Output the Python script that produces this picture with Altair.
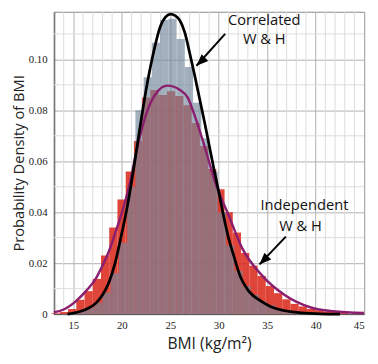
import altair as alt
import pandas as pd

# Correlated W & H histogram (bin edges and densities)
gray_edges = [13.75, 14.6, 15.45, 16.3, 17.15, 18.0, 18.85, 19.7, 20.55, 21.4, 22.25, 23.1,
              23.95, 24.8, 25.65, 26.5, 27.35, 28.2, 29.05, 29.9, 30.75, 31.6, 32.45, 33.3,
              34.15, 35.0, 35.85, 36.7, 37.55, 38.4, 39.25, 40.1, 40.95, 41.8, 42.65]
gray_h = [0.0001, 0.0004, 0.0012, 0.0025, 0.0045, 0.0085, 0.016, 0.028, 0.050, 0.080, 0.093,
          0.1065, 0.1155, 0.116, 0.108, 0.097, 0.083, 0.069, 0.056, 0.040, 0.027, 0.017, 0.011,
          0.0075, 0.005, 0.0035, 0.0022, 0.0014, 0.0009, 0.0006, 0.0004, 0.0002, 0.0001, 0.0001]

# Independent W & H histogram
red_edges = [12.75, 13.6, 14.45, 15.3, 16.15, 17.0, 17.85, 18.7, 19.55, 20.4, 21.25, 22.1,
             22.95, 23.8, 24.65, 25.5, 26.35, 27.2, 28.05, 28.9, 29.75, 30.6, 31.45, 32.3,
             33.15, 34.0, 34.85, 35.7, 36.55, 37.4, 38.25, 39.1, 39.95, 40.8, 41.65, 42.5, 43.35]
red_h = [0.0003, 0.0008, 0.002, 0.0056, 0.009, 0.0138, 0.023, 0.034, 0.045, 0.056, 0.068,
         0.085, 0.088, 0.086, 0.0875, 0.0856, 0.082, 0.075, 0.066, 0.057, 0.049, 0.040, 0.032,
         0.024, 0.019, 0.015, 0.011, 0.0082, 0.0058, 0.004, 0.003, 0.002, 0.0015, 0.001,
         0.0008, 0.0005]

# Fitted curves
black_x = [14.4, 15.5, 16.5, 17.3, 18.0, 18.6, 19.3, 19.9, 20.4, 20.9, 21.3, 21.8, 22.5, 23.2,
           24.0, 24.5, 25.0, 25.5, 26.0, 26.5, 27.0, 27.5, 28.0, 28.5, 29.0, 29.5, 30.0, 30.5,
           31.0, 31.5, 32.2, 33.0, 34.4, 35.5, 36.7, 38.5, 40.5, 42.5]
black_y = [0.0, 0.0008, 0.0022, 0.0042, 0.0075, 0.0118, 0.020, 0.030, 0.039, 0.0495, 0.059,
           0.0715, 0.088, 0.1015, 0.1132, 0.1166, 0.1178, 0.1172, 0.1152, 0.1105, 0.1025,
           0.094, 0.085, 0.076, 0.0665, 0.057, 0.048, 0.0385, 0.030, 0.0235, 0.015, 0.0095,
           0.005, 0.0027, 0.0014, 0.0005, 0.0001, 0.0]
purple_x = [13.0, 14.0, 15.3, 16.3, 17.3, 18.0, 18.6, 19.6, 20.4, 20.8, 21.6, 22.6, 23.6, 24.7,
            26.0, 26.8, 27.6, 28.6, 29.7, 31.0, 32.4, 34.5, 36.8, 39.5, 41.8, 45.0]
purple_y = [0.0007, 0.0018, 0.0052, 0.009, 0.0138, 0.019, 0.024, 0.035, 0.045, 0.051, 0.0655,
            0.0795, 0.087, 0.0897, 0.088, 0.085, 0.077, 0.065, 0.051, 0.039, 0.026, 0.015,
            0.0075, 0.0026, 0.0011, 0.0004]

x_ticks = [15, 20, 25, 30, 35, 40, 45]
y_ticks = [0, 0.02, 0.04, 0.06, 0.08, 0.10]
x_minor = [v for v in range(13, 46) if v % 5 != 0]
y_minor = [0.01, 0.03, 0.05, 0.07, 0.09, 0.11]

ann_text = ["Correlated", "W & H", "Independent", "W & H"]
ann_x = [34.7, 34.7, 38.84, 38.44]
ann_y = [0.1155, 0.1078, 0.0426, 0.0346]
arrow_tail_x = [30.66, 36.92]
arrow_tail_y = [0.110, 0.0304]
arrow_tip_x = [27.7, 34.2]
arrow_tip_y = [0.0975, 0.0195]
arrow_angle = [226, 225]

gray_df = pd.DataFrame({"x0": gray_edges[:-1], "x1": gray_edges[1:], "h": gray_h, "b": 0.0})
red_df = pd.DataFrame({"x0": red_edges[:-1], "x1": red_edges[1:], "h": red_h, "b": 0.0})
black_df = pd.DataFrame({"x": black_x, "y": black_y})
purple_df = pd.DataFrame({"x": purple_x, "y": purple_y})
ann_df = pd.DataFrame({"t": ann_text, "x": ann_x, "y": ann_y})
arr_df = pd.DataFrame({"x": arrow_tail_x, "y": arrow_tail_y, "x2": arrow_tip_x,
                       "y2": arrow_tip_y, "a": arrow_angle})

xs = alt.Scale(domain=[13, 45], nice=False, zero=False)
ys = alt.Scale(domain=[0, 0.1187], nice=False)

x_axis = alt.Axis(values=x_ticks, grid=True, gridColor="#b0b0b0", ticks=False,
                  domainColor="#555", labelFont="Liberation Serif", labelFontSize=11,
                  labelColor="#222", labelPadding=6, title="BMI (kg/m²)", titleFont="Open Sans",
                  titleFontSize=16, titleFontWeight="normal", titleColor="#222", titlePadding=5)
y_axis = alt.Axis(values=y_ticks, grid=True, gridColor="#b0b0b0", ticks=False,
                  domainColor="#222", domainWidth=1.5, labelFont="Liberation Serif",
                  labelFontSize=11, labelColor="#222", labelPadding=7,
                  labelExpr="datum.value == 0 ? '0' : format(datum.value, '.2f')",
                  title="Probability Density of BMI", titleFont="Open Sans", titleFontSize=15,
                  titleFontWeight="normal", titleColor="#222", titleX=-28)

minor_v = alt.Chart(pd.DataFrame({"v": x_minor})).mark_rule(color="#dcdcdc", strokeWidth=1).encode(
    x=alt.X("v:Q", scale=xs, axis=x_axis))
minor_h = alt.Chart(pd.DataFrame({"v": y_minor})).mark_rule(color="#dcdcdc", strokeWidth=1).encode(
    y=alt.Y("v:Q", scale=ys, axis=y_axis))

red_bars = alt.Chart(red_df).mark_rect(color="#dc2a1e", opacity=0.875).encode(
    x=alt.X("x0:Q", scale=xs), x2="x1:Q", y=alt.Y("h:Q", scale=ys), y2="b:Q")
gray_bars = alt.Chart(gray_df).mark_rect(color="#72879d", opacity=0.65).encode(
    x=alt.X("x0:Q", scale=xs), x2="x1:Q", y=alt.Y("h:Q", scale=ys), y2="b:Q")

purple_line = alt.Chart(purple_df).mark_line(color="#8b1e6e", strokeWidth=2.5,
                                             interpolate="monotone").encode(
    x=alt.X("x:Q", scale=xs), y=alt.Y("y:Q", scale=ys))
black_line = alt.Chart(black_df).mark_line(color="#000000", strokeWidth=2.8,
                                           interpolate="monotone").encode(
    x=alt.X("x:Q", scale=xs), y=alt.Y("y:Q", scale=ys))

arrows = alt.Chart(arr_df).mark_rule(color="#000000", strokeWidth=2).encode(
    x=alt.X("x:Q", scale=xs), y=alt.Y("y:Q", scale=ys), x2="x2:Q", y2="y2:Q")
heads = alt.Chart(arr_df).mark_point(shape="M0,0L-0.6,1.5L0.6,1.5Z", filled=True, opacity=1,
                                     color="#000000", size=260).encode(
    x=alt.X("x2:Q", scale=xs), y=alt.Y("y2:Q", scale=ys), angle=alt.Angle("a:Q", scale=None))

texts = alt.Chart(ann_df).mark_text(font="Open Sans", fontSize=15, color="#111",
                                    align="center", baseline="middle").encode(
    x=alt.X("x:Q", scale=xs), y=alt.Y("y:Q", scale=ys), text="t:N")

chart = alt.layer(minor_v, minor_h, red_bars, gray_bars, purple_line, black_line,
                  arrows, heads, texts).properties(
    width=317, height=309,
    autosize=alt.AutoSizeParams(type="none"),
    padding={"left": 47, "top": 0, "right": 6, "bottom": 39},
).configure_view(stroke="#888", strokeWidth=1)

chart.save("out.html", embed_options={"renderer": "svg", "actions": False})
